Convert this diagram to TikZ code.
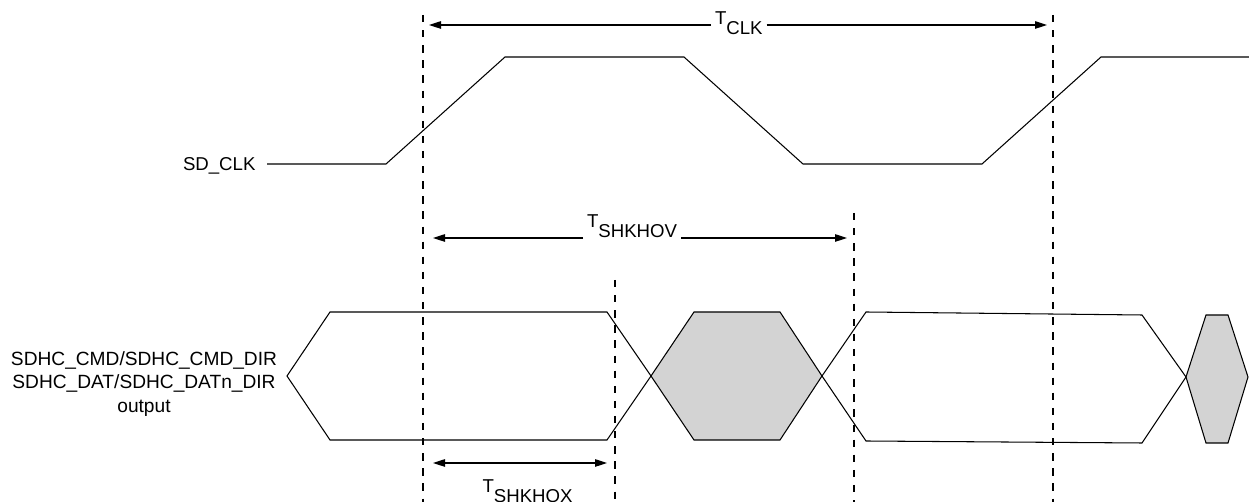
\documentclass[tikz,border=0pt]{standalone}
\usepackage{fontspec}
\setmainfont{Liberation Sans}
\usetikzlibrary{arrows.meta}
\definecolor{wavegrey}{HTML}{D3D3D3}
\begin{document}
\begin{tikzpicture}[x=0.02cm,y=-0.02cm,line width=0.6pt,
  wave/.style={draw=black,line join=miter},
  greywave/.style={draw=black,fill=wavegrey,line join=miter},
  guide/.style={draw=black,dash pattern=on 4.2pt off 4.4pt},
  tipend/.style={-{Triangle[length=0.24cm,width=0.15cm]}},
  lbl/.style={font=\fontsize{10.6}{13.6}\selectfont,inner sep=0pt}]
\useasboundingbox (0,0) rectangle (1249,502);

% guide lines
\coordinate (g1t) at (423,15);  \coordinate (g1b) at (423,502);
\coordinate (g2t) at (1053,15); \coordinate (g2b) at (1053,502);
\coordinate (g3t) at (615,280); \coordinate (g3b) at (615,502);
\coordinate (g4t) at (854,213); \coordinate (g4b) at (854,502);
\draw[guide] (g1t) -- (g1b);
\draw[guide] (g2t) -- (g2b);
\draw[guide] (g3t) -- (g3b);
\draw[guide] (g4t) -- (g4b);

% SD_CLK
\node[lbl,anchor=base east] (sdclk) at (256,171) {SD\_CLK};
\coordinate (clk0) at (267,164);
\draw[wave] (clk0) -- (386,164) -- (505,57) -- (684,57) -- (803,164)
  -- (982,164) -- (1101,57) -- (1249,57);

% T_CLK
\node[lbl,anchor=base west,inner xsep=2pt] (tclk) at (711,25) {T\raisebox{-0.2cm}{CLK}};
\coordinate (tclkL) at (429,25);
\coordinate (tclkR) at (1047,25);
\draw[tipend] (tclk.base west) -- (tclkL);
\draw[tipend] (tclk.base east) -- (tclkR);

% T_SHKHOV
\node[lbl,anchor=base west,inner xsep=2pt] (tshkhov) at (583,238) {\raisebox{0.2cm}{T}SHKHOV};
\coordinate (tovL) at (433,238);
\coordinate (tovR) at (847,238);
\draw[tipend] (tshkhov.base west) -- (tovL);
\draw[tipend] (tshkhov.base east) -- (tovR);

% T_SHKHOX
\coordinate (toxL) at (433,463);
\coordinate (toxR) at (607,463);
\draw[{Triangle[length=0.24cm,width=0.15cm]}-{Triangle[length=0.24cm,width=0.15cm]}] (toxL) -- (toxR);
\node[lbl,anchor=base west] (tshkhox) at (482,493) {T\raisebox{-0.2cm}{SHKHOX}};

% data label
\node[lbl,align=center,font=\fontsize{10.9}{13.6}\selectfont] (dlbl) at (144,384)
  {SDHC\_CMD/SDHC\_CMD\_DIR\\SDHC\_DAT/SDHC\_DATn\_DIR\\output};

% data waveform
\draw[greywave] (651,376) -- (694,312) -- (780,312) -- (822,376) -- (780,440) -- (694,440) -- cycle;
\draw[greywave] (1186,377) -- (1206,315) -- (1228,315) -- (1248,377) -- (1228,443) -- (1206,443) -- cycle;
\draw[wave] (287,376) -- (330,312) -- (607,312) -- (651,376) -- (607,440) -- (330,440) -- cycle;
\draw[wave] (822,376) -- (866,312) -- (1142,315) -- (1186,377) -- (1142,443) -- (866,441) -- cycle;
\end{tikzpicture}
\end{document}
